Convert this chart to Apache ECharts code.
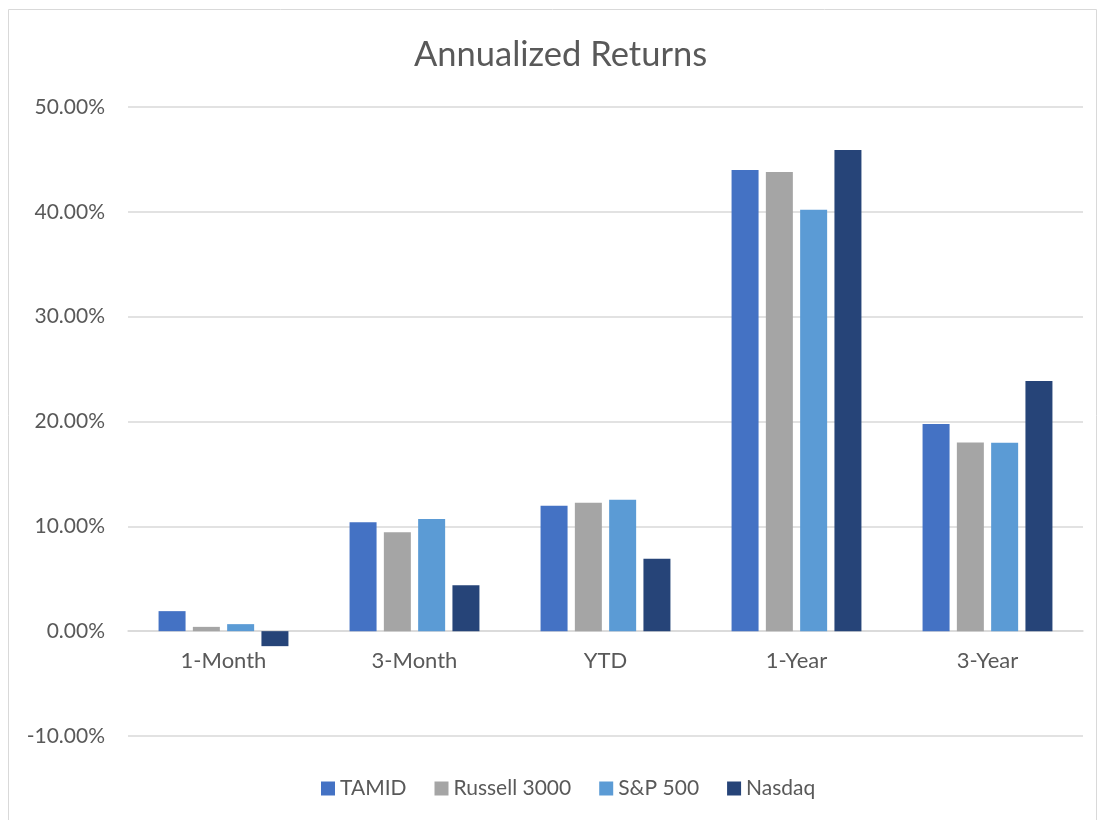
<!DOCTYPE html>
<html><head><meta charset="utf-8">
<script src="https://cdn.jsdelivr.net/npm/echarts@6/dist/echarts.min.js"></script>
<style>html,body{margin:0;padding:0;background:#fff}#c{width:1099px;height:820px}</style>
</head><body><div id="c"></div>
<script>
const categories = ['1-Month', '3-Month', 'YTD', '1-Year', '3-Year'];
const seriesNames = ['TAMID', 'Russell 3000', 'S&P 500', 'Nasdaq'];
const tamid = [1.91, 10.38, 11.96, 43.98, 19.75];
const russell = [0.41, 9.43, 12.25, 43.8, 18.0];
const sp500 = [0.67, 10.7, 12.53, 40.2, 17.97];
const nasdaq = [-1.43, 4.39, 6.9, 45.9, 23.86];
const colors = ['#4472C4', '#A5A5A5', '#5B9BD5', '#264478'];
const font = 'Lato, "Open Sans", sans-serif';
const chart = echarts.init(document.getElementById('c'));
const dataSets = [tamid, russell, sp500, nasdaq];
const gridTop = 107, gridBottom = 84, yMin = -10, yMax = 50;
const gridH = 820 - gridTop - gridBottom;
chart.setOption({
  animation: false,
  color: colors,
  graphic: [{type: 'rect', shape: {x: 8.5, y: 9.5, width: 1088, height: 820}, style: {fill: 'none', stroke: '#d9d9d9', lineWidth: 1}, silent: true}],
  title: {text: 'Annualized Returns', left: 409, top: 32, textStyle: {fontFamily: font, fontSize: 34.5, fontWeight: 'normal', color: '#595959'}},
  legend: {bottom: 16, left: 316, itemWidth: 14, itemHeight: 14, itemGap: 28, icon: 'rect',
    textStyle: {fontFamily: font, fontSize: 21, color: '#595959'}},
  grid: {left: 128, right: 16, top: gridTop, bottom: gridBottom, containLabel: false},
  xAxis: {type: 'category', data: categories, offset: -gridH * (0 - yMin) / (yMax - yMin),
    axisLine: {onZero: false, lineStyle: {color: '#d9d9d9', width: 1.5}}, axisTick: {show: false},
    axisLabel: {fontFamily: font, fontSize: 22, color: '#595959', margin: 19}},
  yAxis: {type: 'value', min: yMin, max: yMax, interval: 10,
    axisLine: {show: false}, axisTick: {show: false},
    splitLine: {lineStyle: {color: '#d9d9d9', width: 1.5}},
    axisLabel: {fontFamily: font, fontSize: 21, color: '#595959', margin: 23, formatter: v => v.toFixed(2) + '%'}},
  series: seriesNames.map((n, i) => ({name: n, type: 'bar', data: dataSets[i], barGap: '27%', barCategoryGap: '32%'}))
});
</script></body></html>
